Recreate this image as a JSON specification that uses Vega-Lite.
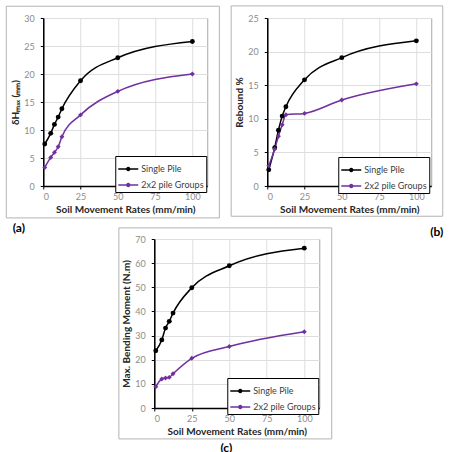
{
  "$schema": "https://vega.github.io/schema/vega-lite/v6.json",
  "padding": {"left": 5, "top": 4, "right": 0, "bottom": 0},
  "background": "white",
  "center": true,
  "spacing": -25,
  "resolve": {"scale": {"color": "independent"}, "legend": {"color": "independent"}},
  "config": {
    "font": "Lato",
    "view": {"stroke": "#a6a6a6", "strokeWidth": 1},
    "axis": {
      "labelFont": "Lato",
      "labelFontSize": 9,
      "labelColor": "#8c8c8c",
      "titleFont": "Lato",
      "titleFontSize": 10,
      "titleFontWeight": "bold",
      "titleColor": "#262626",
      "gridColor": "#dedede",
      "gridWidth": 1,
      "domainColor": "#000000",
      "domainWidth": 1.5,
      "tickColor": "#000000",
      "tickSize": 3
    },
    "axisX": {"labelPadding": 3, "titlePadding": 3},
    "axisY": {"labelPadding": 6, "titlePadding": 3},
    "legend": {
      "labelFont": "Lato",
      "labelFontSize": 9,
      "labelColor": "#404040",
      "strokeColor": "#000000",
      "strokeWidth": 1,
      "fillColor": "#ffffff",
      "padding": 2,
      "rowPadding": 0,
      "symbolSize": 400,
      "symbolStrokeWidth": 1.5,
      "symbolType": "M-1,0L1,0M-0.15,0A0.15,0.15,0,1,1,0.15,0A0.15,0.15,0,1,1,-0.15,0",
      "labelOffset": 2
    },
    "title": {"font": "Lato", "fontSize": 12, "fontWeight": "bold", "color": "#000000", "frame": "bounds"}
  },
  "vconcat": [
    {
      "resolve": {"scale": {"color": "independent"}, "legend": {"color": "independent"}},
      "spacing": 8,
      "hconcat": [
        {
          "width": 164,
          "height": 168,
          "title": {"text": "(a)", "orient": "bottom", "anchor": "start", "dx": 7, "offset": 5},
          "data": {"values": [
            {"rate": 1, "value": 7.5, "series": "Single Pile"},
            {"rate": 5, "value": 9.4, "series": "Single Pile"},
            {"rate": 7.5, "value": 11.0, "series": "Single Pile"},
            {"rate": 10, "value": 12.3, "series": "Single Pile"},
            {"rate": 12.5, "value": 13.8, "series": "Single Pile"},
            {"rate": 25, "value": 18.8, "series": "Single Pile"},
            {"rate": 50, "value": 22.9, "series": "Single Pile"},
            {"rate": 100, "value": 25.8, "series": "Single Pile"},
            {"rate": 1, "value": 3.3, "series": "2x2 pile Groups"},
            {"rate": 5, "value": 5.1, "series": "2x2 pile Groups"},
            {"rate": 7.5, "value": 6.0, "series": "2x2 pile Groups"},
            {"rate": 10, "value": 7.0, "series": "2x2 pile Groups"},
            {"rate": 12.5, "value": 8.8, "series": "2x2 pile Groups"},
            {"rate": 25, "value": 12.7, "series": "2x2 pile Groups"},
            {"rate": 50, "value": 16.9, "series": "2x2 pile Groups"},
            {"rate": 100, "value": 20.0, "series": "2x2 pile Groups"}
          ]},
          "encoding": {
            "x": {"field": "rate", "type": "quantitative", "scale": {"domain": [0, 110], "nice": false},
                  "axis": {"values": [0, 25, 50, 75, 100], "title": "Soil Movement Rates (mm/min)"}},
            "y": {"field": "value", "type": "quantitative", "scale": {"domain": [0, 30], "nice": false},
                  "axis": {"values": [0, 5, 10, 15, 20, 25, 30], "title": "δHₘₐₓ (ₘₘ)"}},
            "color": {"field": "series", "type": "nominal",
                      "scale": {"domain": ["Single Pile", "2x2 pile Groups"], "range": ["#000000", "#7030a0"]},
                      "legend": {"orient": "none", "legendX": 72, "legendY": 138, "title": null}}
          },
          "layer": [
            {"mark": {"type": "line", "interpolate": "monotone", "strokeWidth": 1.5}},
            {
              "transform": [{"filter": "datum.series === 'Single Pile'"}],
              "mark": {"type": "point", "shape": "circle", "filled": true, "size": 24, "opacity": 1}
            },
            {
              "transform": [{"filter": "datum.series === '2x2 pile Groups'"}],
              "mark": {"type": "point", "shape": "diamond", "filled": true, "size": 24, "opacity": 1}
            },
            {
              "data": {"values": [{"x0": -24.8, "x1": 118.1, "y0": -5.7, "y1": 32.1}]},
              "mark": {"type": "rect", "fill": null, "stroke": "#b3b3b3", "strokeWidth": 1},
              "encoding": {
                "x": {"field": "x0", "type": "quantitative", "scale": {"domain": [0, 110], "nice": false},
                      "axis": {"values": [0, 25, 50, 75, 100], "title": "Soil Movement Rates (mm/min)"}},
                "x2": {"field": "x1"},
                "y": {"field": "y0", "type": "quantitative", "scale": {"domain": [0, 30], "nice": false},
                      "axis": {"values": [0, 5, 10, 15, 20, 25, 30], "title": "δHₘₐₓ (ₘₘ)"}},
                "y2": {"field": "y1"},
                "color": {"value": null}
              }
            }
          ]
        },
        {
          "width": 164,
          "height": 168,
          "title": {"text": "(b)", "orient": "bottom", "anchor": "end", "dx": 0, "offset": 10},
          "data": {"values": [
            {"rate": 1, "value": 2.4, "series": "Single Pile"},
            {"rate": 5, "value": 5.7, "series": "Single Pile"},
            {"rate": 7.5, "value": 8.3, "series": "Single Pile"},
            {"rate": 10, "value": 10.4, "series": "Single Pile"},
            {"rate": 12.5, "value": 11.8, "series": "Single Pile"},
            {"rate": 25, "value": 15.8, "series": "Single Pile"},
            {"rate": 50, "value": 19.1, "series": "Single Pile"},
            {"rate": 100, "value": 21.6, "series": "Single Pile"},
            {"rate": 1, "value": 3.0, "series": "2x2 pile Groups"},
            {"rate": 5, "value": 5.5, "series": "2x2 pile Groups"},
            {"rate": 7.5, "value": 7.4, "series": "2x2 pile Groups"},
            {"rate": 10, "value": 9.1, "series": "2x2 pile Groups"},
            {"rate": 12.5, "value": 10.6, "series": "2x2 pile Groups"},
            {"rate": 25, "value": 10.8, "series": "2x2 pile Groups"},
            {"rate": 50, "value": 12.8, "series": "2x2 pile Groups"},
            {"rate": 100, "value": 15.2, "series": "2x2 pile Groups"}
          ]},
          "encoding": {
            "x": {"field": "rate", "type": "quantitative", "scale": {"domain": [0, 110], "nice": false},
                  "axis": {"values": [0, 25, 50, 75, 100], "title": "Soil Movement Rates (mm/min)"}},
            "y": {"field": "value", "type": "quantitative", "scale": {"domain": [0, 25], "nice": false},
                  "axis": {"values": [0, 5, 10, 15, 20, 25], "title": "Rebound %"}},
            "color": {"field": "series", "type": "nominal",
                      "scale": {"domain": ["Single Pile", "2x2 pile Groups"], "range": ["#000000", "#7030a0"]},
                      "legend": {"orient": "none", "legendX": 71, "legendY": 139, "title": null}}
          },
          "layer": [
            {"mark": {"type": "line", "interpolate": "monotone", "strokeWidth": 1.5}},
            {
              "transform": [{"filter": "datum.series === 'Single Pile'"}],
              "mark": {"type": "point", "shape": "circle", "filled": true, "size": 24, "opacity": 1}
            },
            {
              "transform": [{"filter": "datum.series === '2x2 pile Groups'"}],
              "mark": {"type": "point", "shape": "diamond", "filled": true, "size": 24, "opacity": 1}
            },
            {
              "data": {"values": [{"x0": -24.2, "x1": 117.7, "y0": -4.5, "y1": 26.8}]},
              "mark": {"type": "rect", "fill": null, "stroke": "#b3b3b3", "strokeWidth": 1},
              "encoding": {
                "x": {"field": "x0", "type": "quantitative", "scale": {"domain": [0, 110], "nice": false},
                      "axis": {"values": [0, 25, 50, 75, 100], "title": "Soil Movement Rates (mm/min)"}},
                "x2": {"field": "x1"},
                "y": {"field": "y0", "type": "quantitative", "scale": {"domain": [0, 25], "nice": false},
                      "axis": {"values": [0, 5, 10, 15, 20, 25], "title": "Rebound %"}},
                "y2": {"field": "y1"},
                "color": {"value": null}
              }
            }
          ]
        }
      ]
    },
    {
      "width": 165,
      "height": 169,
      "title": {"text": "(c)", "orient": "bottom", "anchor": "middle", "dx": 1, "offset": 4},
      "data": {"values": [
        {"rate": 1, "value": 23.7, "series": "Single Pile"},
        {"rate": 5, "value": 28.2, "series": "Single Pile"},
        {"rate": 7.5, "value": 33.1, "series": "Single Pile"},
        {"rate": 10, "value": 35.9, "series": "Single Pile"},
        {"rate": 12.5, "value": 39.3, "series": "Single Pile"},
        {"rate": 25, "value": 49.8, "series": "Single Pile"},
        {"rate": 50, "value": 58.9, "series": "Single Pile"},
        {"rate": 100, "value": 66.2, "series": "Single Pile"},
        {"rate": 1, "value": 8.8, "series": "2x2 pile Groups"},
        {"rate": 5, "value": 12.0, "series": "2x2 pile Groups"},
        {"rate": 7.5, "value": 12.4, "series": "2x2 pile Groups"},
        {"rate": 10, "value": 12.7, "series": "2x2 pile Groups"},
        {"rate": 12.5, "value": 14.2, "series": "2x2 pile Groups"},
        {"rate": 25, "value": 20.6, "series": "2x2 pile Groups"},
        {"rate": 50, "value": 25.5, "series": "2x2 pile Groups"},
        {"rate": 100, "value": 31.6, "series": "2x2 pile Groups"}
      ]},
      "encoding": {
        "x": {"field": "rate", "type": "quantitative", "scale": {"domain": [0, 110], "nice": false},
              "axis": {"values": [0, 25, 50, 75, 100], "title": "Soil Movement Rates (mm/min)"}},
        "y": {"field": "value", "type": "quantitative", "scale": {"domain": [0, 70], "nice": false},
              "axis": {"values": [0, 10, 20, 30, 40, 50, 60, 70], "title": "Max. Bending Moment (N.m)"}},
        "color": {"field": "series", "type": "nominal",
                  "scale": {"domain": ["Single Pile", "2x2 pile Groups"], "range": ["#000000", "#7030a0"]},
                  "legend": {"orient": "none", "legendX": 73, "legendY": 139, "title": null}}
      },
      "layer": [
        {"mark": {"type": "line", "interpolate": "monotone", "strokeWidth": 1.5}},
        {
          "transform": [{"filter": "datum.series === 'Single Pile'"}],
          "mark": {"type": "point", "shape": "circle", "filled": true, "size": 24, "opacity": 1}
        },
        {
          "transform": [{"filter": "datum.series === '2x2 pile Groups'"}],
          "mark": {"type": "point", "shape": "diamond", "filled": true, "size": 24, "opacity": 1}
        },
        {
          "data": {"values": [{"x0": -23.6, "x1": 118.3, "y0": -12.8, "y1": 74.6}]},
          "mark": {"type": "rect", "fill": null, "stroke": "#b3b3b3", "strokeWidth": 1},
          "encoding": {
            "x": {"field": "x0", "type": "quantitative", "scale": {"domain": [0, 110], "nice": false},
                  "axis": {"values": [0, 25, 50, 75, 100], "title": "Soil Movement Rates (mm/min)"}},
            "x2": {"field": "x1"},
            "y": {"field": "y0", "type": "quantitative", "scale": {"domain": [0, 70], "nice": false},
                  "axis": {"values": [0, 10, 20, 30, 40, 50, 60, 70], "title": "Max. Bending Moment (N.m)"}},
            "y2": {"field": "y1"},
            "color": {"value": null}
          }
        }
      ]
    }
  ]
}
